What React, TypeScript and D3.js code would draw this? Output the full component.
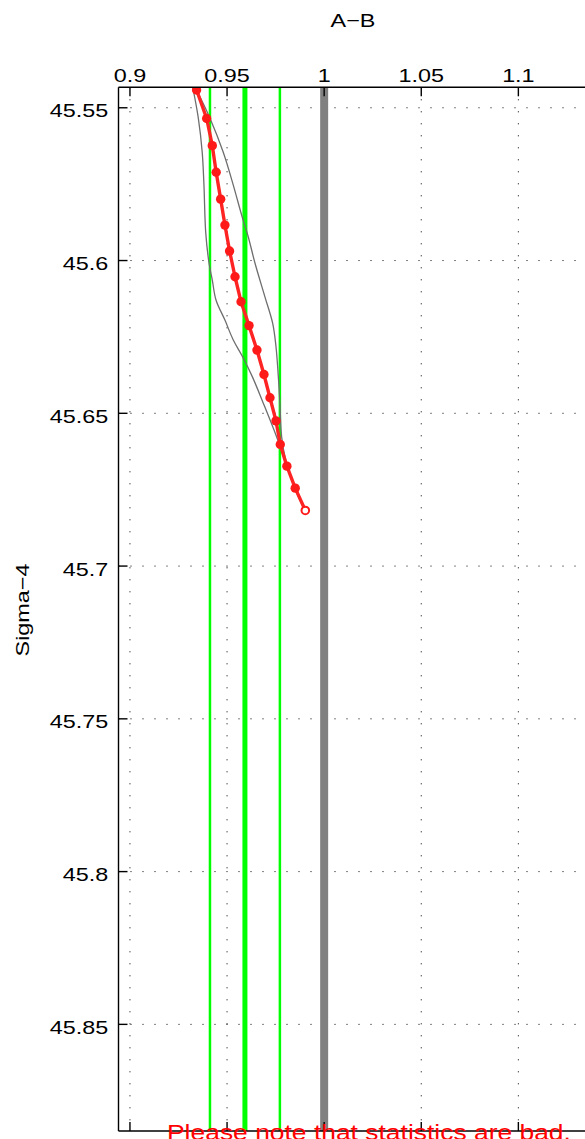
import React from "react";
import * as d3 from "d3";

// Data
const xTicks = [0.9, 0.95, 1, 1.05, 1.1];
const yTicks = [45.55, 45.6, 45.65, 45.7, 45.75, 45.8, 45.85];

const redSigma = [45.5442, 45.5535, 45.5624, 45.5711, 45.5799, 45.5884, 45.5969, 45.6053, 45.6135, 45.6213, 45.6293, 45.6373, 45.6449, 45.6525, 45.6602, 45.6673, 45.6745, 45.6818];
const redAB = [0.9343, 0.9395, 0.9424, 0.9444, 0.9467, 0.9489, 0.9513, 0.9541, 0.9572, 0.9613, 0.9654, 0.969, 0.9721, 0.9752, 0.9774, 0.9808, 0.9851, 0.9903];

const lowSigma = [45.5432, 45.5534, 45.5645, 45.5753, 45.5907, 45.6008, 45.6064, 45.6129, 45.6195, 45.626, 45.6315, 45.638, 45.6466, 45.6577, 45.6686, 45.6806, 45.6818];
const lowAB = [0.9323, 0.9352, 0.9372, 0.9381, 0.939, 0.9407, 0.9424, 0.9443, 0.9489, 0.9532, 0.958, 0.963, 0.9686, 0.9755, 0.9815, 0.9892, 0.9903];

const highSigma = [45.5432, 45.5534, 45.5645, 45.5753, 45.5851, 45.5922, 45.6009, 45.6119, 45.6206, 45.6282, 45.638, 45.6466, 45.6577, 45.6642, 45.6718, 45.6806, 45.6818];
const highAB = [0.9335, 0.9412, 0.948, 0.9532, 0.9575, 0.9609, 0.9644, 0.9695, 0.9735, 0.9752, 0.9764, 0.9772, 0.9781, 0.9798, 0.9833, 0.9892, 0.9903];

const greenThin = [0.9412, 0.9772];
const greenThick = [0.9592];
const grayRef = [1.0];

const xDomain = [0.8941, 1.1356];
const yDomain = [45.5433, 45.8849];

const FONT = "'Liberation Sans', Arial, Helvetica, sans-serif";
const SX = 1.23;

export default function App() {
  const W = 585, H = 1139;
  const left = 118.5, right = 587.5, top = 87.3, bottom = 1131;
  const x = d3.scaleLinear().domain(xDomain).range([left, right]);
  const y = d3.scaleLinear().domain(yDomain).range([top, bottom]);

  const line = d3.line<[number, number]>().x(d => x(d[0])).y(d => y(d[1]));
  const smooth = d3.line<[number, number]>().x(d => x(d[0])).y(d => y(d[1])).curve(d3.curveCatmullRom.alpha(0.5));
  const red = redAB.map((v, i) => [v, redSigma[i]] as [number, number]);
  const low = lowAB.map((v, i) => [v, lowSigma[i]] as [number, number]);
  const high = highAB.map((v, i) => [v, highSigma[i]] as [number, number]);

  const tickLen = 9;

  return (
    <svg width={W} height={H} style={{ position: "absolute", left: 0, top: 0, background: "#fff" }} fontFamily={FONT}>
      <defs>
        <clipPath id="plotclip">
          <rect x={left} y={top} width={right - left} height={bottom - top} />
        </clipPath>
      </defs>
      <rect x={0} y={0} width={W} height={H} fill="#fff" />
      {/* grid */}
      <g stroke="#000" strokeWidth={1} strokeDasharray="1,11" clipPath="url(#plotclip)">
        {xTicks.map(t => (
          <line key={"gx" + t} x1={x(t)} x2={x(t)} y1={top} y2={bottom} />
        ))}
        {yTicks.map(t => (
          <line key={"gy" + t} x1={left} x2={right} y1={y(t)} y2={y(t)} />
        ))}
      </g>
      {/* reference lines */}
      <g clipPath="url(#plotclip)">
        {grayRef.map(v => (
          <line key={"gr" + v} x1={x(v)} x2={x(v)} y1={top} y2={bottom} stroke="#808080" strokeWidth={8} />
        ))}
        {greenThin.map(v => (
          <line key={"gt" + v} x1={x(v)} x2={x(v)} y1={top} y2={bottom} stroke="#00ff00" strokeWidth={2.5} />
        ))}
        {greenThick.map(v => (
          <line key={"gk" + v} x1={x(v)} x2={x(v)} y1={top} y2={bottom} stroke="#00ff00" strokeWidth={5} />
        ))}
        <path d={smooth(low) || ""} fill="none" stroke="#6e6e6e" strokeWidth={1.3} />
        <path d={smooth(high) || ""} fill="none" stroke="#6e6e6e" strokeWidth={1.3} />
        <path d={line(red) || ""} fill="none" stroke="#ff2424" strokeWidth={3.4} strokeLinejoin="round" />
        {red.map((d, i) =>
          i < red.length - 1 ? (
            <circle key={"p" + i} cx={x(d[0])} cy={y(d[1])} r={4.7} fill="#ff1a1a" />
          ) : (
            <circle key={"p" + i} cx={x(d[0])} cy={y(d[1])} r={3.8} fill="#fff" stroke="#ff1a1a" strokeWidth={2} />
          )
        )}
      </g>
      {/* axes */}
      <g stroke="#000" strokeWidth={1.4} fill="none">
        <line x1={left} x2={right} y1={top} y2={top} />
        <line x1={left} x2={right} y1={bottom} y2={bottom} />
        <line x1={left} x2={left} y1={top} y2={bottom} />
        {xTicks.map(t => (
          <g key={"tx" + t}>
            <line x1={x(t)} x2={x(t)} y1={top} y2={top + tickLen} />
            <line x1={x(t)} x2={x(t)} y1={bottom} y2={bottom - tickLen} />
          </g>
        ))}
        {yTicks.map(t => (
          <line key={"ty" + t} x1={left} x2={left + tickLen} y1={y(t)} y2={y(t)} />
        ))}
      </g>
      {/* tick labels */}
      <g fontSize={19} fill="#000">
        {xTicks.map(t => (
          <text key={"lx" + t} textAnchor="middle" transform={`translate(${x(t)},${81.7}) scale(${SX},1)`}>
            {d3.format("")(t)}
          </text>
        ))}
        {yTicks.map(t => (
          <text key={"ly" + t} textAnchor="end" transform={`translate(108.3,${y(t) + 9.6}) scale(${SX},1)`}>
            {d3.format("")(t)}
          </text>
        ))}
        <text textAnchor="middle" transform={`translate(353,27) scale(${SX},1)`}>A−B</text>
        <text textAnchor="middle" transform={`translate(28.6,610) rotate(-90) scale(${SX},1)`}>Sigma−4</text>
      </g>
      <text fill="#ff0000" fontSize={21.5} transform={`translate(167,1139.5) scale(${SX},1)`}>
        Please note that statistics are bad.
      </text>
    </svg>
  );
}
